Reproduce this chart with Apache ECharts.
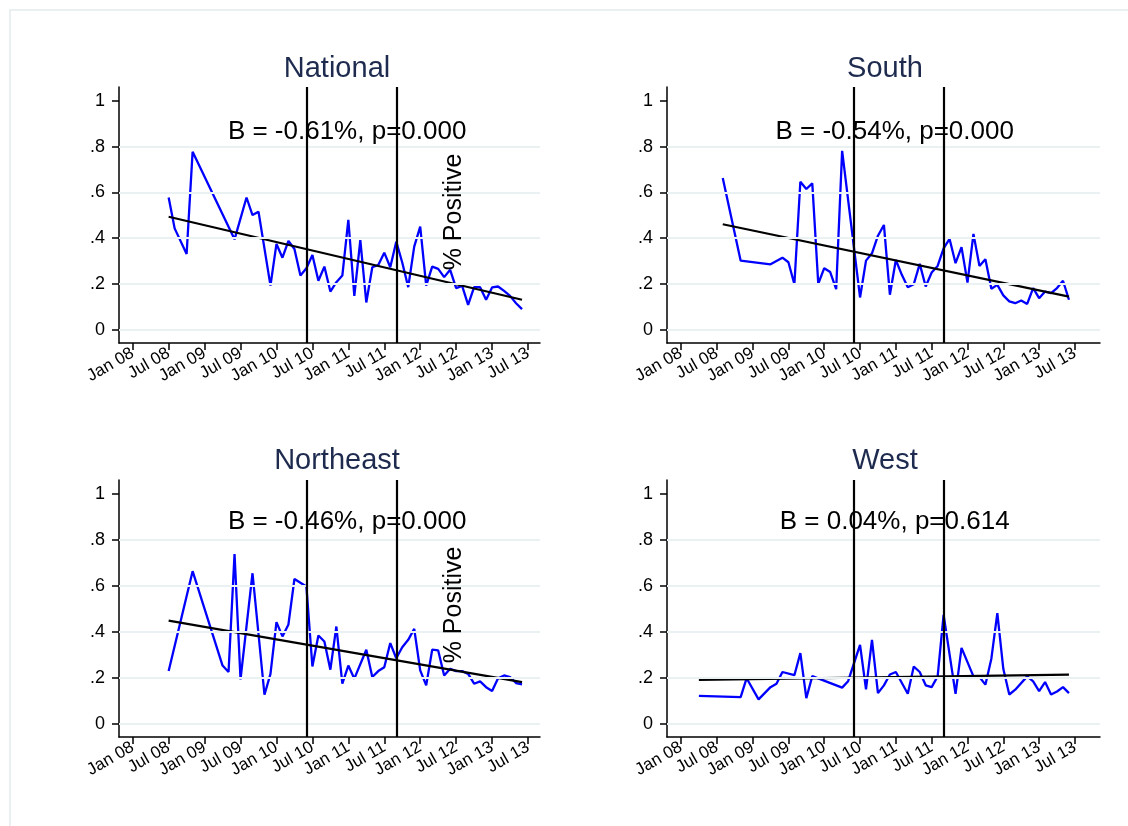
<!DOCTYPE html>
<html><head><meta charset="utf-8">
<script src="https://cdn.jsdelivr.net/npm/echarts@6/dist/echarts.min.js"></script>
<style>html,body{margin:0;padding:0;background:#fff}#c{width:1128px;height:826px}</style>
</head><body><div id="c"></div>
<script>
// ---- data (months counted from Jan 2008 = 0) ----
const tickMonths = [0, 6, 12, 18, 24, 30, 36, 42, 48, 54, 60, 66];
const tickLabels = ['Jan 08','Jul 08','Jan 09','Jul 09','Jan 10','Jul 10','Jan 11','Jul 11','Jan 12','Jul 12','Jan 13','Jul 13'];
const yTicks = [0, 0.2, 0.4, 0.6, 0.8, 1];
const yTickLabels = ['0', '.2', '.4', '.6', '.8', '1'];
const gridValues = [0, 0.2, 0.4, 0.6, 0.8];
const breakMonths = [29, 44];
const panelTitles = ['National', 'South', 'Northeast', 'West'];
const annotations = ['B = -0.61%, p=0.000', 'B = -0.54%, p=0.000', 'B = -0.46%, p=0.000', 'B = 0.04%, p=0.614'];
const axisTitle = '% Positive';

const nationalMonths = [6,7,9,10,17,19,20,21,23,24,25,26,27,28,29,30,31,32,33,34,35,36,37,38,39,40,41,42,43,44,45,46,47,48,49,50,51,52,53,54,55,56,57,58,59,60,61,62,63,64,65];
const nationalValues = [.578,.443,.331,.778,.395,.578,.501,.516,.193,.375,.315,.388,.353,.237,.269,.327,.214,.276,.167,.208,.237,.480,.148,.392,.119,.273,.283,.337,.273,.385,.294,.186,.363,.451,.193,.276,.266,.230,.262,.182,.192,.109,.186,.186,.131,.185,.189,.170,.148,.116,.090];

const southMonths = [7,10,15,17,18,19,20,21,22,23,24,25,26,27,30,31,32,33,34,35,36,37,38,39,40,41,42,43,44,45,46,47,48,49,50,51,52,53,54,55,56,57,58,59,60,61,62,63,64,65];
const southValues = [.663,.302,.286,.315,.295,.199,.647,.615,.640,.201,.269,.252,.177,.782,.141,.302,.334,.411,.458,.153,.305,.240,.186,.199,.288,.189,.250,.279,.356,.397,.291,.361,.206,.419,.279,.308,.179,.196,.150,.124,.116,.128,.113,.182,.138,.167,.160,.182,.214,.131];

const northeastMonths = [6,10,15,16,17,18,20,22,23,24,25,26,27,29,30,31,32,33,34,35,36,37,39,40,41,42,43,44,45,46,47,48,49,50,51,52,53,54,55,56,57,58,59,60,61,62,63,64,65];
const northeastValues = [.229,.664,.253,.225,.739,.193,.655,.126,.217,.442,.380,.432,.630,.597,.249,.384,.358,.235,.423,.174,.253,.196,.322,.203,.229,.246,.351,.285,.333,.365,.413,.232,.167,.322,.319,.210,.239,.229,.229,.217,.174,.184,.159,.142,.198,.210,.203,.177,.171];

const westMonths = [3,10,11,13,15,16,17,19,20,21,22,27,28,30,31,32,33,34,35,36,38,39,40,41,42,43,44,46,47,49,50,51,52,53,54,55,56,58,59,60,61,62,63,64,65];
const westValues = [.121,.116,.198,.106,.159,.174,.225,.211,.307,.111,.207,.157,.185,.343,.149,.365,.133,.167,.214,.225,.130,.249,.225,.167,.159,.206,.474,.130,.330,.206,.203,.170,.283,.481,.239,.127,.148,.206,.184,.142,.181,.127,.140,.159,.133];

// fitted trend line end points [month, value]
const nationalFit = [[6, .494], [65, .131]];
const southFit = [[7, .461], [65, .145]];
const northeastFit = [[6, .449], [65, .181]];
const westFit = [[3, .191], [65, .214]];

// ---- layout ----
const FONT = "'Liberation Sans', Arial, Helvetica, sans-serif";
const panels = [
  {months: nationalMonths, values: nationalValues, fit: nationalFit, grid: {left: 119, top: 87, width: 421, height: 256}, xMin: -2.29, xMax: 68.0, titleX: 337, titleY: 69, annY: 0.865},
  {months: southMonths, values: southValues, fit: southFit, grid: {left: 667, top: 87, width: 433, height: 256}, xMin: -2.34, xMax: 70.2, titleX: 885, titleY: 69, annY: 0.865},
  {months: northeastMonths, values: northeastValues, fit: northeastFit, grid: {left: 119, top: 480, width: 421, height: 257}, xMin: -2.29, xMax: 68.0, titleX: 337, titleY: 461, annY: 0.877},
  {months: westMonths, values: westValues, fit: westFit, grid: {left: 667, top: 480, width: 433, height: 257}, xMin: -2.34, xMax: 70.2, titleX: 885, titleY: 461, annY: 0.877}
];

const chart = echarts.init(document.getElementById('c'), null, {renderer: 'canvas'});
const grids = [], xAxes = [], yAxes = [], series = [];
const idx = (arr, v) => arr.findIndex(a => Math.abs(a - v) < 1e-9);

panels.forEach((p, i) => {
  grids.push(Object.assign({containLabel: false}, p.grid));
  xAxes.push({
    gridIndex: i, type: 'value', min: p.xMin, max: p.xMax,
    axisLine: {show: true, onZero: false, lineStyle: {color: '#000', width: 1.5}},
    axisTick: {show: true, customValues: tickMonths, length: 7, lineStyle: {color: '#000', width: 1.5}},
    axisLabel: {show: true, customValues: tickMonths, rotate: 30, margin: 9, color: '#000', fontSize: 17, fontFamily: FONT,
      formatter: v => { const k = idx(tickMonths, v); return k >= 0 ? tickLabels[k] : ''; }},
    splitLine: {show: false}
  });
  yAxes.push({
    gridIndex: i, type: 'value', min: -0.058, max: 1.061,
    axisLine: {show: true, onZero: false, lineStyle: {color: '#000', width: 1.5}},
    axisTick: {show: true, customValues: yTicks, length: 7, lineStyle: {color: '#000', width: 1.5}},
    axisLabel: {show: true, customValues: yTicks, margin: 14, color: '#000', fontSize: 18, fontFamily: FONT,
      formatter: v => { const k = idx(yTicks, v); return k >= 0 ? yTickLabels[k] : ''; }},
    splitLine: {show: false}
  });
  series.push({
    type: 'line', xAxisIndex: i, yAxisIndex: i, data: [], z: 1, silent: true,
    markLine: {silent: true, symbol: ['none', 'none'], label: {show: false},
      lineStyle: {color: '#eaf1f3', width: 2, type: 'solid'},
      data: gridValues.map(v => ({yAxis: v}))}
  });
  series.push({
    type: 'line', xAxisIndex: i, yAxisIndex: i, z: 3, symbol: 'none', silent: true,
    lineStyle: {color: '#0000ff', width: 2.3},
    data: p.months.map((m, k) => [m, p.values[k]])
  });
  series.push({
    type: 'line', xAxisIndex: i, yAxisIndex: i, z: 4, symbol: 'none', silent: true,
    lineStyle: {color: '#000', width: 2.2},
    data: p.fit
  });
  series.push({
    type: 'line', xAxisIndex: i, yAxisIndex: i, data: [], z: 5, silent: true,
    markLine: {silent: true, symbol: ['none', 'none'], label: {show: false},
      lineStyle: {color: '#000', width: 2.2, type: 'solid'},
      data: breakMonths.map(m => ({xAxis: m}))}
  });
});

chart.setOption({
  animation: false,
  backgroundColor: '#fff',
  grid: grids, xAxis: xAxes, yAxis: yAxes, series: series
});

const graphics = [
  {type: 'rect', shape: {x: 10, y: 10, width: 1200, height: 900}, style: {fill: 'none', stroke: '#e4ebed', lineWidth: 1.5}, z: 0, silent: true}
];
panels.forEach((p, i) => {
  graphics.push({type: 'text', x: p.titleX, y: p.titleY, z: 10, silent: true,
    style: {text: panelTitles[i], font: '29px ' + FONT, fill: '#1e2b4e', textAlign: 'center', textVerticalAlign: 'middle'}});
  const pt = chart.convertToPixel({gridIndex: i}, [35.8, p.annY]);
  graphics.push({type: 'text', x: pt[0], y: pt[1], z: 10, silent: true,
    style: {text: annotations[i], font: '26px ' + FONT, fill: '#000', textAlign: 'center', textVerticalAlign: 'middle'}});
});
[212, 605].forEach(cy => {
  graphics.push({type: 'text', x: 454, y: cy, rotation: Math.PI / 2, z: 10, silent: true,
    style: {text: axisTitle, font: '25px ' + FONT, fill: '#000', textAlign: 'center', textVerticalAlign: 'middle'}});
});
chart.setOption({graphic: graphics});
</script>
</body></html>
